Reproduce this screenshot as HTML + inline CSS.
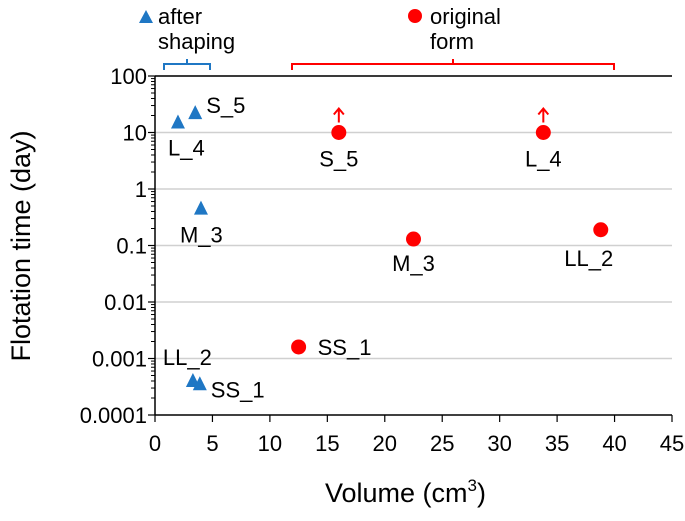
<!DOCTYPE html>
<html><head><meta charset="utf-8"><style>
body{margin:0;background:#fff;width:685px;height:516px;overflow:hidden}
svg{font-family:"Liberation Sans",sans-serif}
</style></head><body>
<svg id="chart" width="685" height="516" viewBox="0 0 685 516"></svg>
<script>
const xTicks=[0,5,10,15,20,25,30,35,40,45];
const yTicks=[0.0001,0.001,0.01,0.1,1,10,100];
const yTickLabels=["0.0001","0.001","0.01","0.1","1","10","100"];
const shapedNames=["L_4","S_5","M_3","LL_2","SS_1"];
const shapedVol=[2.0,3.5,4.0,3.3,3.9];
const shapedTime=[15,22,0.45,0.0004,0.00035];
const origNames=["SS_1","S_5","M_3","L_4","LL_2"];
const origVol=[12.5,16,22.5,33.8,38.8];
const origTime=[0.0016,10,0.13,10,0.19];
const origArrow=[false,true,false,true,false];
const NS="http://www.w3.org/2000/svg";
const svg=document.getElementById('chart');
const X0=155,X1=672,Y0=415,Y1=76;
const xs=v=>X0+v/45*(X1-X0);
const ys=v=>Y0-(Math.log10(v)+4)/6*(Y0-Y1);
function el(t,a,txt){const e=document.createElementNS(NS,t);for(const k in a)e.setAttribute(k,a[k]);if(txt!=null)e.textContent=txt;svg.appendChild(e);return e;}
yTicks.forEach((t,i)=>{if(i>0){const g=el('line',{x1:X0,x2:X1,y1:ys(t),y2:ys(t),stroke:'#d0d0d0','stroke-width':1.5});

}});
let a=el('line',{x1:X0,x2:X0,y1:Y1,y2:Y0,stroke:'#000','stroke-width':1.5});

a=el('line',{x1:X0,x2:X1,y1:Y0,y2:Y0,stroke:'#000','stroke-width':1.5});

a=el('line',{x1:X0,x2:X1,y1:Y1,y2:Y1,stroke:'#000','stroke-width':1.5});

yTicks.forEach((t,i)=>{const y=ys(t);
el('line',{x1:X0-7,x2:X0,y1:y,y2:y,stroke:'#000','stroke-width':1.2});
const tl=el('text',{x:X0-8,y:y+8,'font-size':22,'text-anchor':'end'},yTickLabels[i]);


if(i<yTicks.length-1){for(let m=2;m<10;m++){const yy=ys(t*m);el('line',{x1:X0-4,x2:X0,y1:yy,y2:yy,stroke:'#000','stroke-width':1});}}
});
xTicks.forEach(t=>{const x=xs(t);
el('line',{x1:x,x2:x,y1:Y0,y2:Y0+7,stroke:'#000','stroke-width':1.2});
const tl=el('text',{x:x,y:Y0+36,'font-size':22,'text-anchor':'middle'},String(t));

});
let tt=el('text',{x:(X0+X1)/2-8,y:502,'font-size':27,'text-anchor':'middle'});
tt.innerHTML='Volume (cm<tspan font-size="17" dy="-11">3</tspan><tspan dy="11">)</tspan>';

tt=el('text',{x:30,y:246,'font-size':27,'text-anchor':'middle',transform:'rotate(-90 30 246)'},'Flotation time (day)');

const sOff=[[-10,33,'start'],[11,0,'start'],[-21,34,'start'],[-30,-16,'start'],[11,13,'start']];
shapedVol.forEach((v,i)=>{const x=xs(v),y=ys(shapedTime[i]);
const p=el('polygon',{points:`${x},${y-8} ${x-7},${y+6} ${x+7},${y+6}`,fill:'#1f77c4'});


const l=el('text',{x:x+sOff[i][0],y:y+sOff[i][1],'font-size':22,'text-anchor':sOff[i][2]},shapedNames[i]);
});
const oOff=[[19,8,'start'],[0,34,'middle'],[0,32,'middle'],[0,34,'middle'],[-12,36,'middle']];
origVol.forEach((v,i)=>{const x=xs(v),y=ys(origTime[i]);
const c=el('circle',{cx:x,cy:y,r:7.5,fill:'#ff0000'});


if(origArrow[i]){el('path',{d:`M${x},${y-10} V${y-24} M${x-5},${y-18} L${x},${y-24} L${x+5},${y-18}`,stroke:'#ff0000','stroke-width':2,fill:'none'});}
const l=el('text',{x:x+oOff[i][0],y:y+oOff[i][1],'font-size':22,'text-anchor':oOff[i][2]},origNames[i]);
});
</script>
<svg style="position:absolute;left:0;top:0" width="685" height="80">
<polygon points="146,10 139,23 153,23" fill="#1f77c4"/>
<text x="158" y="24" font-size="22" font-family="Liberation Sans,sans-serif">after</text>
<text x="158" y="49" font-size="22" font-family="Liberation Sans,sans-serif">shaping</text>
<path d="M164,70 V64 H210 V70 M187,64 V59" stroke="#1f77c4" stroke-width="2" fill="none"/>
<circle cx="415" cy="16" r="7" fill="#ff0000"/>
<text x="430" y="24" font-size="22" font-family="Liberation Sans,sans-serif">original</text>
<text x="430" y="49" font-size="22" font-family="Liberation Sans,sans-serif">form</text>
<path d="M292,70 V64 H614 V70 M453,64 V59" stroke="#ff0000" stroke-width="2" fill="none"/>
</svg>
</body></html>
